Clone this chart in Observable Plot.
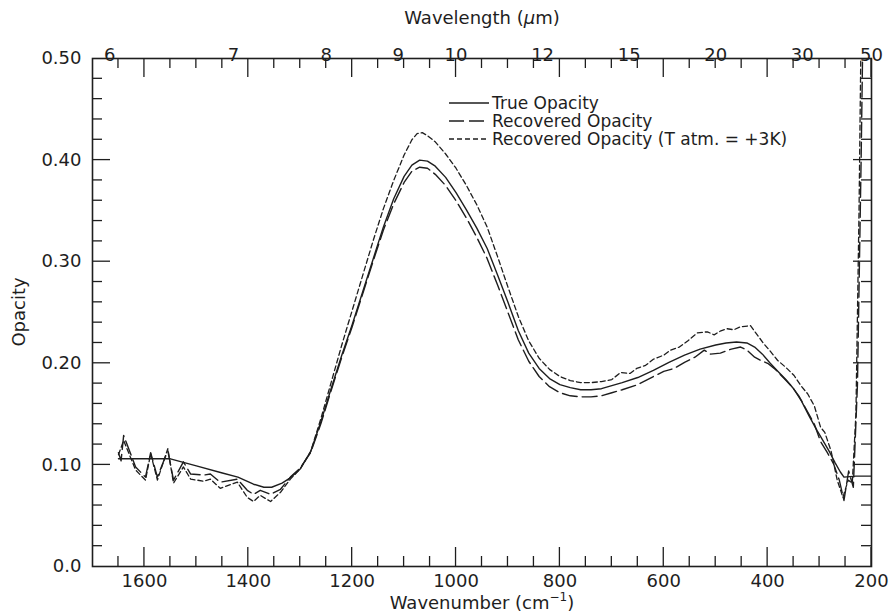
<!DOCTYPE html>
<html>
<head>
<meta charset="utf-8">
<script src="https://cdn.jsdelivr.net/npm/d3@7"></script>
<script src="https://cdn.jsdelivr.net/npm/@observablehq/plot@0.6"></script>
<style>
  body { margin: 0; background: #fff; }
  #chart svg { display: block; }
</style>
</head>
<body>
<div id="chart"></div>
<script>
// ---------- data ----------
const trueWn = [1650,1600,1550,1500,1450,1420,1390,1370,1355,1335,1320,1300,1280,1260,1240,1220,1200,1180,1160,1140,1120,1100,1085,1070,1055,1040,1020,1000,980,960,940,920,900,880,860,840,820,800,780,760,740,720,700,680,650,620,590,560,530,500,480,460,440,425,410,395,380,365,350,335,320,305,290,280,270,260,253,230,200];
const trueOp = [0.106,0.106,0.106,0.099,0.092,0.088,0.081,0.078,0.078,0.082,0.087,0.096,0.113,0.143,0.176,0.208,0.238,0.270,0.302,0.334,0.362,0.384,0.395,0.400,0.399,0.394,0.383,0.368,0.351,0.333,0.313,0.287,0.260,0.232,0.210,0.195,0.185,0.179,0.176,0.174,0.174,0.175,0.178,0.181,0.186,0.193,0.201,0.208,0.214,0.218,0.220,0.221,0.220,0.216,0.209,0.200,0.192,0.184,0.175,0.163,0.148,0.134,0.121,0.112,0.102,0.093,0.088,0.089,0.089];

const recWn = [1650,1645,1640,1617,1598,1588,1575,1555,1544,1525,1511,1486,1473,1454,1421,1402,1390,1377,1357,1338,1319,1300,1280,1260,1240,1220,1200,1180,1160,1140,1120,1100,1085,1070,1055,1040,1020,1000,980,960,940,920,900,880,860,840,820,800,780,760,740,720,700,680,650,620,600,580,560,540,522,510,491,470,452,440,425,414,400,385,370,355,340,325,310,298,285,273,262,253,244,235,227,220,214];
const recOp = [0.112,0.104,0.129,0.098,0.088,0.112,0.088,0.114,0.085,0.103,0.091,0.090,0.091,0.083,0.086,0.075,0.071,0.075,0.071,0.076,0.088,0.097,0.112,0.141,0.174,0.206,0.236,0.268,0.300,0.331,0.357,0.378,0.389,0.393,0.392,0.386,0.375,0.360,0.343,0.324,0.303,0.277,0.250,0.223,0.202,0.187,0.177,0.171,0.168,0.167,0.167,0.168,0.171,0.174,0.179,0.187,0.192,0.195,0.201,0.206,0.213,0.209,0.210,0.214,0.216,0.213,0.206,0.203,0.200,0.194,0.186,0.178,0.168,0.154,0.140,0.123,0.112,0.101,0.085,0.065,0.094,0.078,0.180,0.400,0.620];

const rec3Wn = [1650,1640,1617,1598,1588,1575,1555,1544,1525,1511,1486,1473,1454,1421,1402,1390,1377,1357,1338,1319,1300,1280,1260,1240,1220,1200,1180,1160,1140,1120,1100,1085,1075,1065,1055,1040,1020,1000,980,960,940,920,900,880,860,840,820,800,780,760,740,720,700,683,665,652,635,620,600,587,570,554,535,516,503,490,478,465,452,433,420,407,395,381,365,349,336,323,310,298,290,278,266,255,245,237,230,224,218];
const rec3Op = [0.110,0.124,0.095,0.085,0.111,0.085,0.116,0.082,0.098,0.086,0.084,0.086,0.077,0.083,0.068,0.064,0.070,0.064,0.073,0.086,0.096,0.113,0.146,0.182,0.218,0.252,0.286,0.320,0.352,0.380,0.405,0.420,0.426,0.427,0.424,0.418,0.406,0.392,0.375,0.356,0.334,0.305,0.275,0.246,0.222,0.205,0.194,0.187,0.183,0.181,0.181,0.182,0.184,0.191,0.190,0.195,0.198,0.204,0.208,0.213,0.216,0.222,0.230,0.231,0.228,0.232,0.234,0.233,0.236,0.237,0.228,0.219,0.212,0.203,0.196,0.188,0.178,0.170,0.158,0.137,0.132,0.114,0.085,0.068,0.085,0.082,0.150,0.350,0.620];

const xMajor = [1600,1400,1200,1000,800,600,400,200];
const xMinor = [1650,1550,1500,1450,1350,1300,1250,1150,1100,1050,950,900,850,750,700,650,550,500,450,350,300,250];
const yMajor = [0.1,0.2,0.3,0.4];
const yMinor = [0.02,0.04,0.06,0.08,0.12,0.14,0.16,0.18,0.22,0.24,0.26,0.28,0.32,0.34,0.36,0.38,0.42,0.44,0.46,0.48];
const yLabelVals = [0,0.1,0.2,0.3,0.4,0.5];
const yLabels = ["0.0","0.10","0.20","0.30","0.40","0.50"];
const wlLabels = [6,7,8,9,10,12,15,20,30,50];
const seriesNames = ["True Opacity","Recovered Opacity","Recovered Opacity (T atm. = +3K)"];

// ---------- layout ----------
const W = 890, H = 615;
const mL = 92, mR = 19, mT = 58, mB = 49;
const xDom = [1700, 200], yDom = [0, 0.5];
const ink = "#1e1e1e";
const font = "'DejaVu Sans', sans-serif";
const dashPatterns = [null, "15,5", "5,3"];
const majLen = 19, minLen = 10;
const toRows = (wn, v) => wn.map((w, i) => ({wn: w, v: v[i]}));
const dataTrue = toRows(trueWn, trueOp);
const dataRec = toRows(recWn, recOp);
const dataRec3 = toRows(rec3Wn, rec3Op);

const chart = Plot.plot({
  width: W, height: H,
  marginLeft: mL, marginRight: mR, marginTop: mT, marginBottom: mB,
  x: {domain: xDom, axis: null},
  y: {domain: yDom, axis: null},
  style: {fontFamily: font, fontSize: "18px", color: ink, background: "#fff", overflow: "visible"},
  marks: [
    Plot.line(dataTrue, {x: "wn", y: "v", stroke: ink, strokeWidth: 1.4, clip: true}),
    Plot.line(dataRec, {x: "wn", y: "v", stroke: ink, strokeWidth: 1.4, strokeDasharray: dashPatterns[1], clip: true}),
    Plot.line(dataRec3, {x: "wn", y: "v", stroke: ink, strokeWidth: 1.3, strokeDasharray: dashPatterns[2], clip: true}),
    Plot.frame({stroke: ink, strokeWidth: 1.6}),
    Plot.text(xMajor, {x: d => d, text: d => String(d), frameAnchor: "bottom", dy: 20, fill: ink, fontSize: 18}),
    Plot.text(yLabelVals, {y: d => d, text: (d, i) => yLabels[i], frameAnchor: "left", textAnchor: "end", dx: -11, fill: ink, fontSize: 18}),
    Plot.text(wlLabels, {x: d => 10000 / d, text: d => String(d), frameAnchor: "top", dy: -10, fill: ink, fontSize: 18})
  ]
});
document.getElementById("chart").appendChild(chart);

const svg = d3.select(chart);

// inward ticks on all four sides, positioned with the plot's own scales
const sx = chart.scale("x"), sy = chart.scale("y");
const yBot = sy.apply(yDom[0]), yTop = sy.apply(yDom[1]);
const xLeft = sx.apply(xDom[0]), xRight = sx.apply(xDom[1]);
const gt = svg.append("g").attr("stroke", ink).attr("stroke-width", 1.3).attr("fill", "none");
const addLine = (x1, y1, x2, y2) => gt.append("line").attr("x1", x1).attr("y1", y1).attr("x2", x2).attr("y2", y2);
[[xMajor, majLen], [xMinor, minLen]].forEach(([vals, len]) => vals.forEach(v => {
  const x = sx.apply(v);
  addLine(x, yBot, x, yBot - len);
  addLine(x, yTop, x, yTop + len);
}));
[[yMajor, 18], [yMinor, minLen]].forEach(([vals, len]) => vals.forEach(v => {
  const y = sy.apply(v);
  addLine(xLeft, y, xLeft + len, y);
  addLine(xRight, y, xRight - len, y);
}));

// axis titles
const topTitle = svg.append("text")
  .attr("x", 482).attr("y", 24).attr("text-anchor", "middle")
  .attr("font-family", font).attr("font-size", 18).attr("fill", ink);
topTitle.append("tspan").text("Wavelength (");
topTitle.append("tspan").attr("font-style", "italic").text("\u03bc");
topTitle.append("tspan").text("m)");

const botTitle = svg.append("text")
  .attr("x", 482).attr("y", 609).attr("text-anchor", "middle")
  .attr("font-family", font).attr("font-size", 18).attr("fill", ink);
botTitle.append("tspan").text("Wavenumber (cm");
botTitle.append("tspan").attr("font-size", 12).attr("dy", -8).text("\u22121");
botTitle.append("tspan").attr("dy", 8).text(")");

svg.append("text")
  .attr("transform", "translate(25,312) rotate(-90)")
  .attr("text-anchor", "middle")
  .attr("font-family", font).attr("font-size", 18).attr("fill", ink)
  .text("Opacity");

// legend
const legY = [103, 121, 139];
seriesNames.forEach((name, i) => {
  const ln = svg.append("line")
    .attr("x1", 449).attr("x2", 489).attr("y1", legY[i]).attr("y2", legY[i])
    .attr("stroke", ink).attr("stroke-width", 1.4);
  if (dashPatterns[i]) ln.attr("stroke-dasharray", dashPatterns[i]);
  svg.append("text")
    .attr("x", 492).attr("y", legY[i] + 6)
    .attr("text-anchor", "start")
    .attr("font-family", font).attr("font-size", 17).attr("fill", ink)
    .text(name);
});
</script>
</body>
</html>
